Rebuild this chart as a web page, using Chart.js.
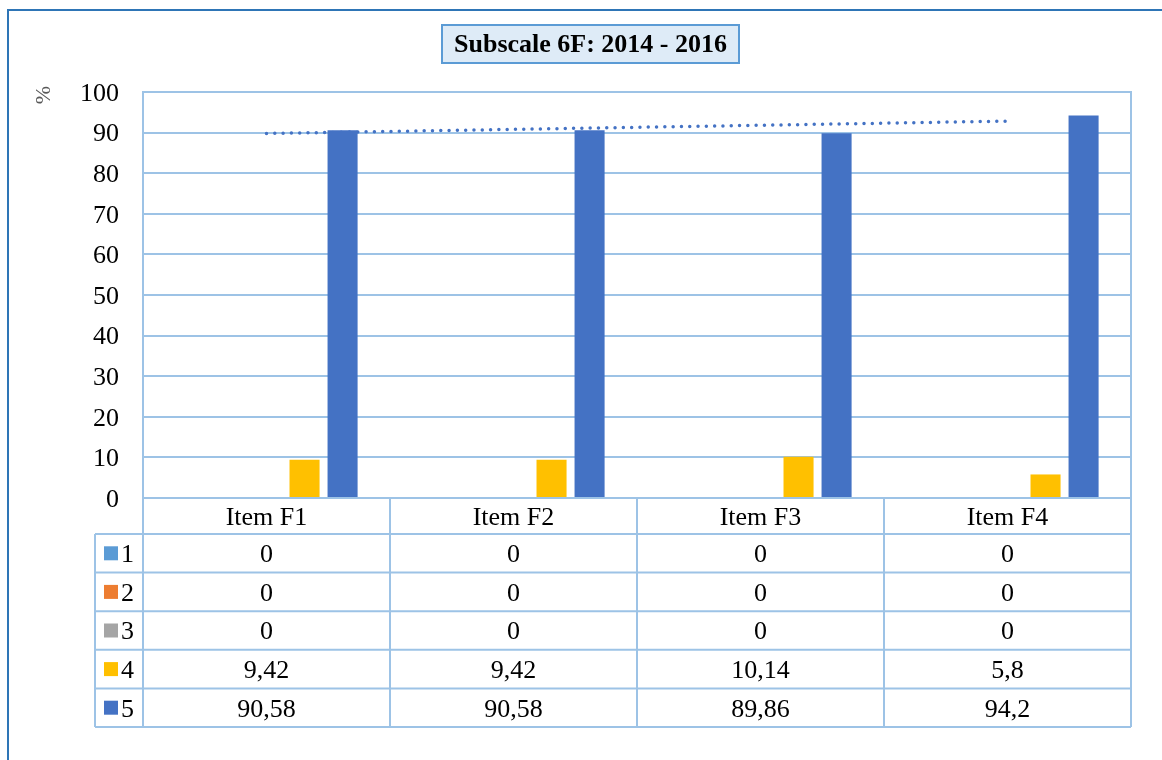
<!DOCTYPE html>
<html>
<head>
<meta charset="utf-8">
<script src="https://cdn.jsdelivr.net/npm/chart.js@4.4.1/dist/chart.umd.min.js"></script>
<style>
html, body { margin: 0; padding: 0; background: #fff; overflow: hidden; }
#wrap { position: relative; width: 1162px; height: 760px; }
#frame { position: absolute; left: 7px; top: 9px; width: 1200px; height: 800px; border-left: 2px solid #2e75b6; border-top: 2px solid #2e75b6; }
canvas { position: absolute; left: 0; top: 0; }
</style>
</head>
<body>
<div id="wrap">
  <div id="frame"></div>
  <canvas id="chart" width="1162" height="760"></canvas>
</div>
<script>
// Dati del grafico
const categories = ['Item F1', 'Item F2', 'Item F3', 'Item F4'];
const seriesNames = ['1', '2', '3', '4', '5'];
const values1 = [0, 0, 0, 0];
const values2 = [0, 0, 0, 0];
const values3 = [0, 0, 0, 0];
const values4 = [9.42, 9.42, 10.14, 5.8];
const values5 = [90.58, 90.58, 89.86, 94.2];
// linea di tendenza (serie 5)
const trend5 = [89.78, 90.8, 91.81, 92.83];

const chartTitle = 'Subscale 6F: 2014 - 2016';
const yTitle = '%';

const seriesColors = ['#5b9bd5', '#ed7d31', '#a5a5a5', '#ffc000', '#4472c4'];
const allValues = [values1, values2, values3, values4, values5];
const gridColor = '#9dc3e6';
const serif = "'Liberation Serif', 'Times New Roman', serif";

const fmt = v => String(v).replace('.', ',');

// Plugin: titolo, etichetta asse e tabella dati
const tablePlugin = {
    id: 'dataTable',
    afterDraw(chart) {
        const ctx = chart.ctx;
        const ca = chart.chartArea;
        const x = chart.scales.x;

        ctx.save();

        // bordo area del grafico
        ctx.strokeStyle = gridColor;
        ctx.lineWidth = 2;
        ctx.strokeRect(ca.left, ca.top, ca.right - ca.left, ca.bottom - ca.top);

        // titolo
        ctx.fillStyle = '#deebf7';
        ctx.strokeStyle = '#5b9bd5';
        ctx.fillRect(442, 25, 297, 38);
        ctx.strokeRect(442, 25, 297, 38);
        ctx.fillStyle = '#000';
        ctx.font = "bold 26px " + serif;
        ctx.textAlign = 'center';
        ctx.textBaseline = 'middle';
        ctx.fillText(chartTitle, 590.5, 45);

        // etichetta asse y
        ctx.save();
        ctx.translate(44, 95);
        ctx.rotate(-Math.PI / 2);
        ctx.fillStyle = '#595959';
        ctx.font = "22px " + serif;
        ctx.fillText(yTitle, 0, 0);
        ctx.restore();

        // tabella
        const half = (x.getPixelForValue(1) - x.getPixelForValue(0)) / 2;
        const tableLeft = 95;
        const rows = [ca.bottom, ca.bottom + 36];
        for (let i = 0; i < seriesNames.length; i++) rows.push(rows[rows.length - 1] + 38.6);
        const bottom = rows[rows.length - 1];

        ctx.strokeStyle = gridColor;
        ctx.lineWidth = 2;
        ctx.beginPath();
        for (let r = 1; r < rows.length; r++) {
            ctx.moveTo(tableLeft, rows[r]);
            ctx.lineTo(ca.right, rows[r]);
        }
        ctx.moveTo(tableLeft, rows[1]);
        ctx.lineTo(tableLeft, bottom);
        ctx.moveTo(ca.left, ca.bottom);
        ctx.lineTo(ca.left, bottom);
        categories.forEach((c, i) => {
            const cx = x.getPixelForValue(i);
            ctx.moveTo(cx + half, ca.bottom);
            ctx.lineTo(cx + half, bottom);
        });
        ctx.stroke();

        ctx.font = "26px " + serif;
        ctx.fillStyle = '#000';
        ctx.textAlign = 'center';
        categories.forEach((c, i) => {
            const cx = x.getPixelForValue(i);
            ctx.fillText(c, cx, (rows[0] + rows[1]) / 2 + 2);
            allValues.forEach((vals, s) => {
                ctx.fillText(fmt(vals[i]), cx, (rows[s + 1] + rows[s + 2]) / 2 + 2);
            });
        });

        // chiavi della legenda
        ctx.textAlign = 'left';
        seriesNames.forEach((name, s) => {
            const cy = (rows[s + 1] + rows[s + 2]) / 2;
            ctx.fillStyle = seriesColors[s];
            ctx.fillRect(104, cy - 7, 14, 14);
            ctx.fillStyle = '#000';
            ctx.fillText(name, 121, cy + 2);
        });

        ctx.restore();
    }
};

const barDatasets = allValues.map((vals, s) => ({
    label: seriesNames[s],
    data: vals,
    backgroundColor: seriesColors[s],
    borderWidth: 0,
    categoryPercentage: 0.77,
    barPercentage: 0.79,
    order: 1
}));

const trendDataset = {
    type: 'line',
    label: 'Lineare (5)',
    data: trend5,
    borderColor: '#4472c4',
    borderWidth: 3.5,
    borderDash: [0, 8.3],
    borderCapStyle: 'round',
    pointRadius: 0,
    fill: false,
    tension: 0,
    order: 2
};

new Chart('chart', {
    type: 'bar',
    data: { labels: categories, datasets: [...barDatasets, trendDataset] },
    options: {
        responsive: false,
        animation: false,
        devicePixelRatio: 1,
        layout: { padding: { top: 92, right: 31, bottom: 262, left: 0 } },
        plugins: {
            legend: { display: false },
            tooltip: { enabled: false }
        },
        scales: {
            x: { display: false, offset: true },
            y: {
                min: 0,
                max: 100,
                ticks: {
                    stepSize: 10,
                    padding: 24,
                    labelOffset: 2,
                    color: '#000',
                    font: { family: serif, size: 26 }
                },
                grid: { color: gridColor, lineWidth: 2, drawTicks: false },
                border: { display: false },
                afterFit: s => { s.width = 143; }
            }
        }
    },
    plugins: [tablePlugin]
});
</script>
</body>
</html>
